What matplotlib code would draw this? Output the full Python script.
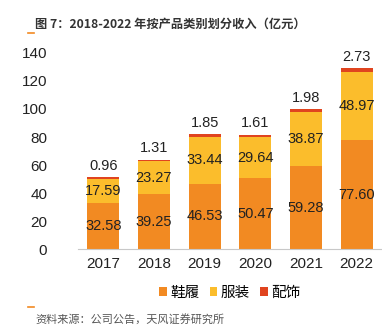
import matplotlib
matplotlib.use('Agg')
import matplotlib.pyplot as plt
import numpy as np

plt.rcParams['font.family'] = ['Noto Sans CJK SC', 'DejaVu Sans']

years = ['2017', '2018', '2019', '2020', '2021', '2022']
shoes = [32.58, 39.25, 46.53, 50.47, 59.28, 77.60]
apparel = [17.59, 23.27, 33.44, 29.64, 38.87, 48.97]
accessories = [0.96, 1.31, 1.85, 1.61, 1.98, 2.73]
series_names = ['鞋履', '服装', '配饰']
colors = ['#F28A22', '#FBBD2C', '#E0441F']

fig = plt.figure(figsize=(3.82, 3.33), dpi=100)
ax = fig.add_axes([0.204, 0.252, 0.796, 0.589])

x = np.arange(len(years))
w = 0.63
shoes = np.array(shoes)
apparel = np.array(apparel)
accessories = np.array(accessories)

ax.bar(x, shoes, w, color=colors[0], label=series_names[0])
ax.bar(x, apparel, w, bottom=shoes, color=colors[1], label=series_names[1])
ax.bar(x, accessories, w, bottom=shoes + apparel, color=colors[2], label=series_names[2])

lab_font = dict(fontsize=10.5, color='#222222', family=['Liberation Sans', 'DejaVu Sans'])
for i in range(len(years)):
    ax.text(x[i], shoes[i] / 2, f'{shoes[i]:.2f}', ha='center', va='center', **lab_font)
    ax.text(x[i], shoes[i] + apparel[i] / 2, f'{apparel[i]:.2f}', ha='center', va='center', **lab_font)
    top = shoes[i] + apparel[i] + accessories[i]
    ax.text(x[i], top + 3, f'{accessories[i]:.2f}', ha='center', va='bottom', **lab_font)

ax.set_xlim(-0.5, len(years) - 0.5)
ax.set_ylim(0, 140)
ax.set_yticks(range(0, 141, 20))
ax.set_xticks(x)
ax.set_xticklabels(years)
for lbl in ax.get_xticklabels() + ax.get_yticklabels():
    lbl.set_family(['Liberation Sans', 'DejaVu Sans'])
    lbl.set_fontsize(11)
    lbl.set_color('#222222')
ax.tick_params(axis='both', length=0)
ax.tick_params(axis='y', pad=22)
ax.tick_params(axis='x', pad=6)
for s in ['top', 'right', 'left']:
    ax.spines[s].set_visible(False)
ax.spines['bottom'].set_color('#C8C8C8')

ax.legend(loc='upper center', bbox_to_anchor=(0.5, -0.12), ncol=3, frameon=False,
          handlelength=0.5, handleheight=0.5, handletextpad=0.25, columnspacing=0.7,
          prop={'size': 10.5})

fig.text(0.092, 0.928, '图 7：2018-2022 年按产品类别划分收入（亿元）', fontsize=8.8,
         fontweight='bold', color='#333333', va='center')
fig.add_artist(plt.Line2D([0.072, 0.090], [0.9, 0.9], color='#F28A22', lw=1.2))
fig.add_artist(plt.Line2D([0.072, 0.090], [0.078, 0.078], color='#F28A22', lw=1.2))
fig.text(0.092, 0.04, '资料来源：公司公告，天风证券研究所', fontsize=8,
         color='#555555', va='center')

fig.savefig('out.png', dpi=100)
